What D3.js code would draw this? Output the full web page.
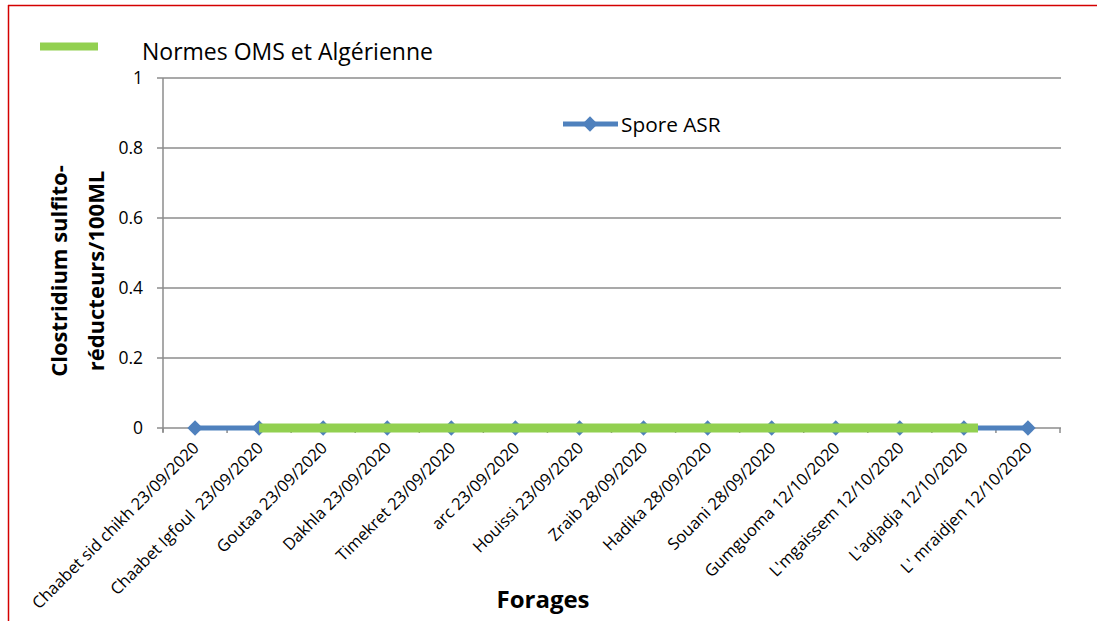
<!DOCTYPE html>
<meta charset="utf-8">
<title>Spore ASR</title>
<script src="https://d3js.org/d3.v7.min.js"></script>
<style>
  body { margin: 0; background: #fff; }
  text { font-family: "Open Sans", sans-serif; fill: #000; white-space: pre; }
</style>
<body>
<div id="chart"></div>
<script>

var forages = ["Chaabet sid chikh 23/09/2020", "Chaabet Igfoul  23/09/2020", "Goutaa 23/09/2020",
  "Dakhla 23/09/2020", "Timekret 23/09/2020", "arc 23/09/2020", "Houissi 23/09/2020",
  "Zraib 28/09/2020", "Hadika 28/09/2020", "Souani 28/09/2020", "Gumguoma 12/10/2020",
  "L'mgaissem 12/10/2020", "L'adjadja 12/10/2020", "L' mraidjen 12/10/2020"];
var sporeASR = [0, 0, 0, 0, 0, 0, 0, 0, 0, 0, 0, 0, 0, 0];
// norm line drawn over category positions (start / end index), value 0
var normeIdx = [1, 12.22];
var normeVal = [0, 0];
var yTicks = [0, 0.2, 0.4, 0.6, 0.8, 1];

var W = 1097, H = 621;
var margin = {top: 78, left: 163, right: 1060, bottom: 428};

var svg = d3.select("#chart").append("svg")
  .attr("width", W).attr("height", H);

// outer frame (red, top + left only visible)
svg.append("line").attr("x1", 8).attr("x2", W).attr("y1", 5.5).attr("y2", 5.5)
  .attr("stroke", "#d40000").attr("stroke-width", 1.5);
svg.append("line").attr("x1", 8.5).attr("x2", 8.5).attr("y1", 5).attr("y2", H)
  .attr("stroke", "#d40000").attr("stroke-width", 1.5);

var x = d3.scaleBand().domain(forages).range([margin.left, margin.right]);
var xi = d3.scaleLinear().domain([0, forages.length - 1])
  .range([margin.left + x.bandwidth() / 2, margin.right - x.bandwidth() / 2]);
var y = d3.scaleLinear().domain([0, 1]).range([margin.bottom, margin.top]);

// gridlines
svg.append("g").selectAll("line").data(yTicks).enter().append("line")
  .attr("x1", margin.left - 6).attr("x2", margin.right + 1)
  .attr("y1", function(d) { return y(d); }).attr("y2", function(d) { return y(d); })
  .attr("stroke", "#8c8c8c").attr("stroke-width", 1.5);

// y axis line
svg.append("line").attr("x1", margin.left).attr("x2", margin.left)
  .attr("y1", margin.top).attr("y2", margin.bottom + 4)
  .attr("stroke", "#8c8c8c").attr("stroke-width", 1.5);

// y labels
svg.append("g").selectAll("text").data(yTicks).enter().append("text")
  .attr("x", 143).attr("y", function(d) { return y(d) + 6; })
  .attr("text-anchor", "end").style("font-size", "17.5px")
  .text(function(d) { return d; });

// x ticks at band boundaries
var bounds = forages.map(function(d) { return x(d); }).concat([margin.right]);
svg.append("g").selectAll("line").data(bounds).enter().append("line")
  .attr("x1", function(d) { return d; }).attr("x2", function(d) { return d; })
  .attr("y1", margin.bottom).attr("y2", margin.bottom + 5)
  .attr("stroke", "#8c8c8c").attr("stroke-width", 1.5);

// x labels
svg.append("g").selectAll("text").data(forages).enter().append("text")
  .attr("transform", function(d) {
    return "translate(" + (x(d) + x.bandwidth() / 2 + 5) + "," + (margin.bottom + 21) + ") rotate(-45)";
  })
  .attr("text-anchor", "end").style("font-size", "16.5px")
  .text(function(d) { return d; });

// Spore ASR series
var line = d3.line()
  .x(function(d, i) { return x(forages[i]) + x.bandwidth() / 2; })
  .y(function(d) { return y(d); });
svg.append("path").datum(sporeASR).attr("d", line)
  .attr("fill", "none").attr("stroke", "#4f81bd").attr("stroke-width", 5);

var diamond = d3.symbol().type(d3.symbolDiamond2).size(150);
svg.append("g").selectAll("path").data(sporeASR).enter().append("path")
  .attr("d", diamond)
  .attr("transform", function(d, i) {
    return "translate(" + (x(forages[i]) + x.bandwidth() / 2) + "," + y(d) + ")";
  })
  .attr("fill", "#4f81bd");

// norm line
svg.append("line")
  .attr("x1", xi(normeIdx[0])).attr("x2", xi(normeIdx[1]))
  .attr("y1", y(normeVal[0])).attr("y2", y(normeVal[1]))
  .attr("stroke", "#92d050").attr("stroke-width", 9);

// legend: norm
svg.append("line").attr("x1", 40).attr("x2", 98).attr("y1", 46.5).attr("y2", 46.5)
  .attr("stroke", "#92d050").attr("stroke-width", 8);
svg.append("text").attr("x", 142).attr("y", 60).style("font-size", "23px")
  .text("Normes OMS et Algérienne");

// legend: Spore ASR
svg.append("line").attr("x1", 563).attr("x2", 618).attr("y1", 124).attr("y2", 124)
  .attr("stroke", "#4f81bd").attr("stroke-width", 5);
svg.append("path").attr("d", diamond).attr("transform", "translate(590,124)")
  .attr("fill", "#4f81bd");
svg.append("text").attr("x", 621).attr("y", 132).style("font-size", "20.8px")
  .text("Spore ASR");

// axis titles
svg.append("text").attr("transform", "translate(67,271) rotate(-90)")
  .attr("text-anchor", "middle").style("font-size", "22px").style("font-weight", "bold")
  .text("Clostridium sulfito-");
svg.append("text").attr("transform", "translate(104,271) rotate(-90)")
  .attr("text-anchor", "middle").style("font-size", "22px").style("font-weight", "bold")
  .text("réducteurs/100ML");
svg.append("text").attr("x", 543).attr("y", 608)
  .attr("text-anchor", "middle").style("font-size", "24px").style("font-weight", "bold")
  .text("Forages");

</script>
</body>
